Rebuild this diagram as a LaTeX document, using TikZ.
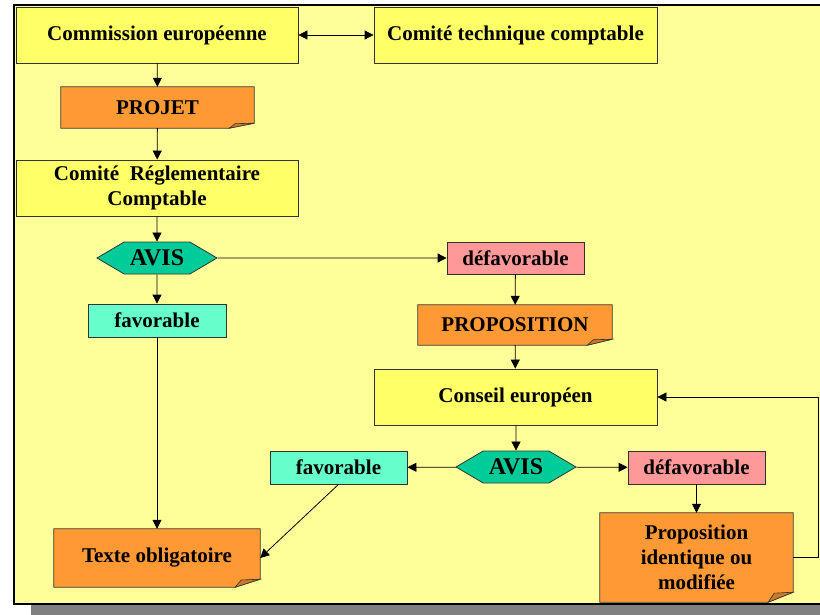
\documentclass[tikz,border=0pt]{standalone}
\usepackage{fontspec}
\setmainfont{Liberation Serif}
\usetikzlibrary{positioning,shapes.symbols,arrows.meta}
\definecolor{panel}{HTML}{FFFF99}
\definecolor{yellowbox}{HTML}{FFFF66}
\definecolor{orangebox}{HTML}{FF9933}
\definecolor{flapcol}{HTML}{CC7A29}
\definecolor{tealbox}{HTML}{00CC99}
\definecolor{aquabox}{HTML}{66FFCC}
\definecolor{pinkbox}{HTML}{FF9999}
\definecolor{shadowcol}{HTML}{808080}
\definecolor{edge}{HTML}{333333}
\begin{document}
\begin{tikzpicture}[x=1pt, y=-1pt,
  every node/.style = {font=\bfseries\fontsize{21}{25}\selectfont, inner sep=2pt, align=center},
  box/.style = {rectangle, draw=edge, line width=0.8pt, fill=#1},
  note/.style = {rectangle, fill=orangebox},
  hexa/.style = {signal, signal to=west and east, signal pointer angle=61, draw=edge, line width=0.8pt, fill=tealbox,
                 minimum width=120pt, minimum height=32pt, inner sep=0pt, font=\bfseries\fontsize{24}{26}\selectfont},
  arr/.style = {-{Triangle[length=9pt,width=9pt]}, line width=0.8pt},
  dblarr/.style = {{Triangle[length=9pt,width=9pt]}-{Triangle[length=9pt,width=9pt]}, line width=0.8pt}]
\clip (0,0) rectangle (820,615);
\fill[shadowcol] (31,16) rectangle (850,630);
\draw[fill=panel, line width=1.4pt] (14,5) rectangle (845,604);

\node[box=yellowbox, minimum width=282pt, minimum height=56pt] (comm) at (157,35) {Commission européenne};
\node[box=yellowbox, minimum width=283pt, minimum height=56pt] (ctc) at (515.5,35) {Comité technique comptable};
\node[note, minimum width=193pt, minimum height=41pt] (projet) at (157.5,107.5) {PROJET};
\node[box=yellowbox, minimum width=282pt, minimum height=56pt] (crc) at (157,188) {Comité\ \ Réglementaire\\Comptable};
\node[hexa] (avis) at (157,258) {AVIS};
\node[box=aquabox, minimum width=138pt, minimum height=33pt] (fav) at (157,320.5) {favorable};
\node[box=pinkbox, minimum width=137pt, minimum height=32pt] (defav) at (515.5,258) {défavorable};
\node[note, minimum width=194pt, minimum height=40pt] (propo) at (515,325) {PROPOSITION};
\node[box=yellowbox, minimum width=283pt, minimum height=56pt] (conseil) at (515.5,397) {Conseil européen};
\node[hexa] (avisb) at (516,467) {AVIS};
\node[box=aquabox, minimum width=137pt, minimum height=33pt] (favb) at (338.5,467.5) {favorable};
\node[box=pinkbox, minimum width=137pt, minimum height=33pt] (defavb) at (696.5,467.5) {défavorable};
\node[note, minimum width=193pt, minimum height=89pt] (propid) at (696.5,557.5) {Proposition\\identique ou\\modifiée};
\node[note, minimum width=206pt, minimum height=58pt] (texte) at (157,558) {Texte obligatoire};

\foreach \n/\h in {projet/5, propo/6, texte/8, propid/10} {
  \fill[panel] ([xshift=-25pt]\n.south east) -- (\n.south east) -- ([yshift=\h pt]\n.south east) -- cycle;
  \draw[edge, line width=0.8pt] (\n.south west) -- ([xshift=-25pt]\n.south east) -- ([yshift=\h pt]\n.south east)
    -- (\n.north east) -- (\n.north west) -- cycle;
  \filldraw[fill=flapcol, draw=edge, line width=0.6pt] ([xshift=-25pt]\n.south east)
    -- ([xshift=-19pt, yshift=0.9*\h pt]\n.south east) -- ([yshift=\h pt]\n.south east) -- cycle;
}

\draw[dblarr] (comm) -- (ctc);
\draw[arr] (comm) -- (projet);
\draw[arr] (projet) -- (crc);
\draw[arr] (crc) -- (avis);
\draw[arr] (avis) -- (fav);
\draw[arr] (avis) -- (defav);
\draw[arr] (defav) -- (propo);
\draw[arr] (propo) -- (conseil);
\draw[arr] (conseil.south -| avisb) -- (avisb);
\draw[arr] (avisb) -- (favb);
\draw[arr] (avisb) -- (defavb);
\draw[arr] (defavb) -- (propid);
\draw[arr] (propid.east) -- ++(25,0) |- (conseil.east);
\draw[arr] (fav) -- (texte);
\draw[arr] (favb.south) -- (texte.east);
\end{tikzpicture}
\end{document}
